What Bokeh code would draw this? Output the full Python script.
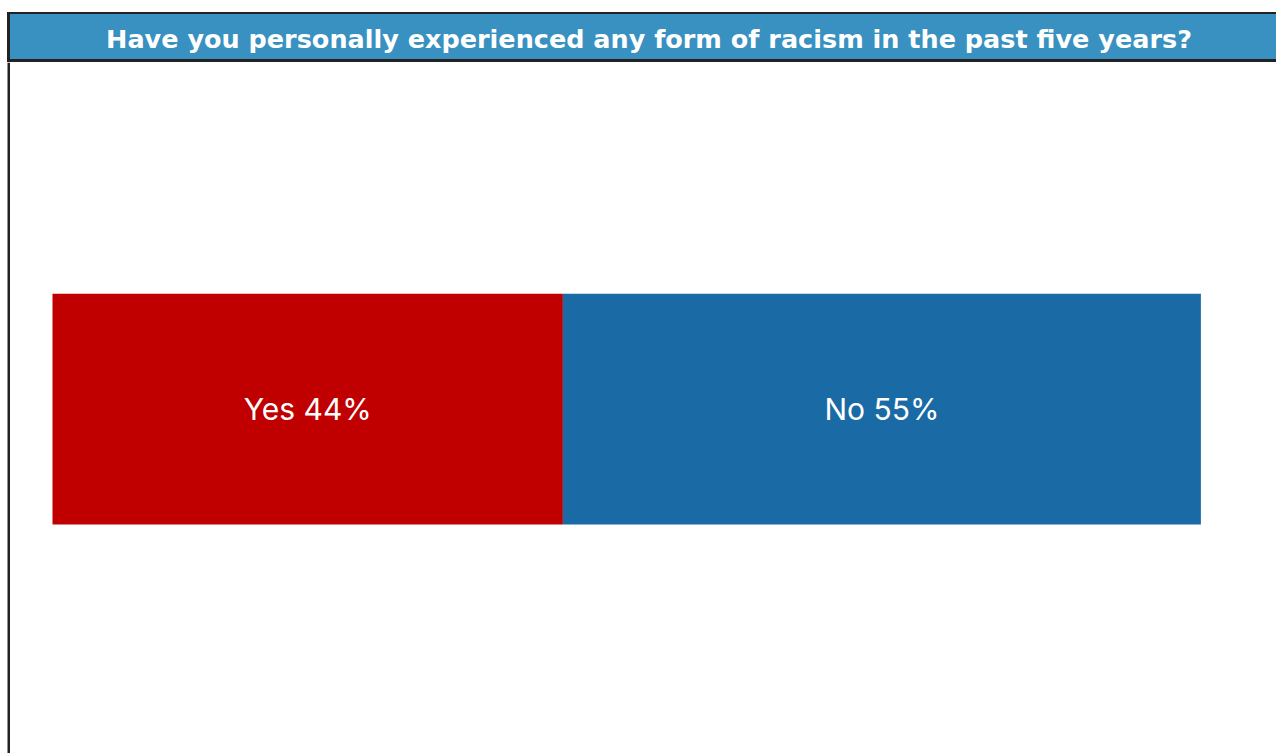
from bokeh.plotting import figure
from bokeh.models import Range1d, ColumnDataSource, LabelSet, Span, Div
from bokeh.layouts import column
from bokeh.core.properties import value
from bokeh.embed import file_html
from bokeh.resources import INLINE

# ---- data ----
title_text = "Have you personally experienced any form of racism in the past five years?"
categories = ["Yes", "No"]
values = [44, 55]
bar_colors = ["#c00000", "#1a6aa6"]

# build stacked positions from the data
lefts, rights, mids = [], [], []
acc = 0
for v in values:
    lefts.append(acc)
    rights.append(acc + v)
    mids.append(acc + v / 2)
    acc += v
labels = [f"{c} {v}%" for c, v in zip(categories, values)]

src = ColumnDataSource(dict(
    cat=categories, left=lefts, right=rights, mid=mids,
    y=[0] * len(values), label=labels, color=bar_colors,
))

header = Div(
    text=(
        '<div style="display:block;box-sizing:content-box;margin:12px 0 0 7px;'
        'width:1254px;height:45px;background:#3891c1;'
        'border-top:2px solid #222;border-bottom:3px solid #222;border-left:3px solid #222;'
        'border-right:none;'
        'color:#ffffff;font-family:\'DejaVu Sans\';font-weight:bold;font-size:25.5px;'
        'line-height:50px;text-align:center;padding:0 0 0 12px;white-space:nowrap;overflow:hidden;">'
        + title_text + '</div>'
    ),
    width=1276, height=62, margin=0,
)

x_start, x_end = -3.879, 105.518
p = figure(
    width=1276, height=691,
    x_range=Range1d(x_start, x_end), y_range=Range1d(-0.997, 1.003),
    output_backend="svg", toolbar_location=None,
    min_border_left=7, min_border_right=0, min_border_top=0, min_border_bottom=0,
)
p.axis.visible = False
p.grid.visible = False
p.outline_line_color = None
p.background_fill_color = "white"
p.border_fill_color = "white"

p.hbar(y="y", left="left", right="right", height=0.668, color="color",
       line_color=None, source=src)

p.add_layout(LabelSet(x="mid", y="y", text="label", source=src,
                      text_align="center", text_baseline="middle",
                      text_color="white", text_font=value("Inter"),
                      text_font_size="30px"))

p.add_layout(Span(location=x_start, dimension="height",
                  line_color="#222222", line_width=5))

layout = column(header, p, spacing=0)

open("out.html", "w").write(file_html(layout, INLINE))
